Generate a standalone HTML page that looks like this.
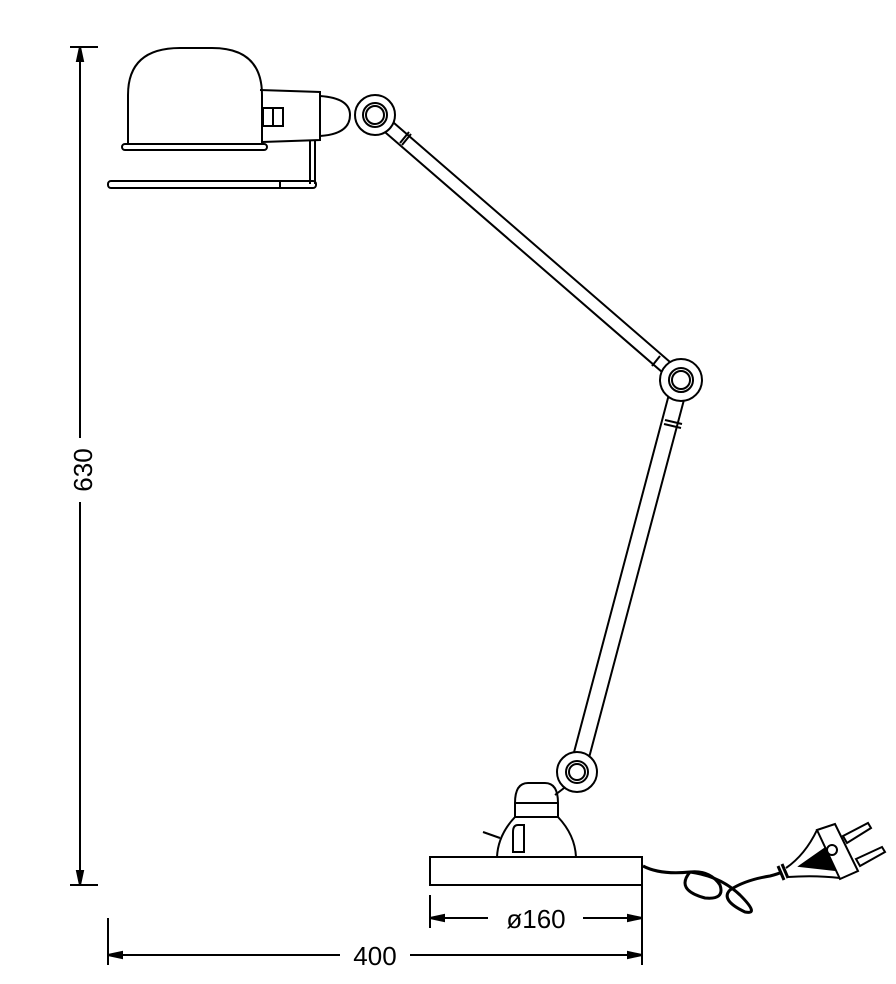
<!DOCTYPE html>
<html><head><style>body{margin:0;background:#fff}svg{display:block}</style></head><body>
<svg width="896" height="984" viewBox="0 0 896 984" xmlns="http://www.w3.org/2000/svg" fill="none" stroke="#000" stroke-width="2" font-family="Liberation Sans, sans-serif">
<!-- vertical dimension -->
<line x1="70" y1="47" x2="98" y2="47"/>
<line x1="70" y1="885" x2="98" y2="885"/>
<line x1="80" y1="47" x2="80" y2="438"/>
<line x1="80" y1="502" x2="80" y2="885"/>
<path d="M80 47 l-3 14 h6z M80 885 l-3 -14 h6z" fill="#000"/>
<text x="0" y="0" transform="translate(92,470) rotate(-90)" font-size="26" fill="#000" stroke="none" text-anchor="middle">630</text>
<!-- horizontal 400 -->
<line x1="108" y1="918" x2="108" y2="965"/>
<line x1="642" y1="858" x2="642" y2="965"/>
<line x1="108" y1="955" x2="340" y2="955"/>
<line x1="410" y1="955" x2="642" y2="955"/>
<path d="M108 955 l14 -3 v6z M642 955 l-14 -3 v6z" fill="#000"/>
<text x="375" y="965" font-size="26" fill="#000" stroke="none" text-anchor="middle">400</text>
<!-- diameter 160 -->
<line x1="430" y1="895" x2="430" y2="928"/>
<line x1="430" y1="918" x2="488" y2="918"/>
<line x1="583" y1="918" x2="642" y2="918"/>
<path d="M430 918 l14 -3 v6z M642 918 l-14 -3 v6z" fill="#000"/>
<text x="536" y="928" font-size="26" fill="#000" stroke="none" text-anchor="middle">ø160</text>
<!-- shade -->
<path d="M128 143 V95 Q128 48 180 48 H212 Q262 48 262 95 V143"/>
<rect x="122" y="144" width="145" height="6" rx="3"/>
<path d="M260 90 L320 92 V140 L262 142"/>
<rect x="263" y="108" width="20" height="18"/>
<line x1="273" y1="108" x2="273" y2="126"/>
<path d="M320 96 Q350 98 350 115 Q350 134 320 136"/>
<!-- wire bar -->
<rect x="108" y="181" width="208" height="7" rx="3"/>
<path d="M310 140 V184 M315 140 V184"/>
<line x1="280" y1="181" x2="280" y2="188"/>
<!-- arm1 -->
<path d="M379 110 L685 375 M371 120 L677 385"/>
<path d="M409 132 L400 143 M411 134 L402 145"/>
<path d="M660 356 L652 366"/>
<!-- arm2 -->
<path d="M688.7 382 L584.7 774 M673.3 378 L569.3 770"/>
<path d="M665 420 L682 424 M664 424 L681 428"/>
<!-- joints -->
<circle cx="375" cy="115" r="20" fill="#fff"/><circle cx="375" cy="115" r="12"/><circle cx="375" cy="115" r="9"/>
<circle cx="681" cy="380" r="21" fill="#fff"/><circle cx="681" cy="380" r="12"/><circle cx="681" cy="380" r="9"/>
<!-- base body -->
<path d="M555 795 L568 785"/>
<path d="M515 803 Q515 783 528 783 H545 Q558 783 558 803 V817 Q575 835 576 857"/>
<path d="M515 803 V817 Q498 835 497 857"/>
<line x1="515" y1="803" x2="558" y2="803"/><line x1="515" y1="817" x2="558" y2="817"/>
<path d="M513 852 V832 Q513 825 518 825 H524 V852 Z"/>
<path d="M483 832 L500 838"/>
<circle cx="577" cy="772" r="20" fill="#fff"/><circle cx="577" cy="772" r="11"/><circle cx="577" cy="772" r="8"/>
<rect x="430" y="857" width="212" height="28"/>
<!-- cord -->
<path d="M643 866 Q660 875 690 872 Q720 876 740 895 Q760 915 745 912 Q720 900 730 890 Q745 880 770 876 Q778 874 782 872" stroke-width="3"/>
<path d="M690 872 Q675 890 705 898 Q725 900 720 885 Q710 870 690 872" stroke-width="3"/>
<!-- plug -->
<path d="M778 866 L784 880 M782 864 L788 878" stroke-width="3"/>
<path d="M786 868 Q805 855 817 830 M788 877 Q815 875 840 878"/>
<path d="M800 866 L830 845 L835 870 Z" fill="#000"/>
<path d="M817 830 L835 824 L858 871 L840 879 Z" fill="#fff"/>
<circle cx="832" cy="850" r="5"/>
<path d="M843 836 L868 823 L871 828 L847 843 Z M856 859 L882 847 L885 852 L860 866 Z" fill="#fff"/>
</svg>
</body></html>
